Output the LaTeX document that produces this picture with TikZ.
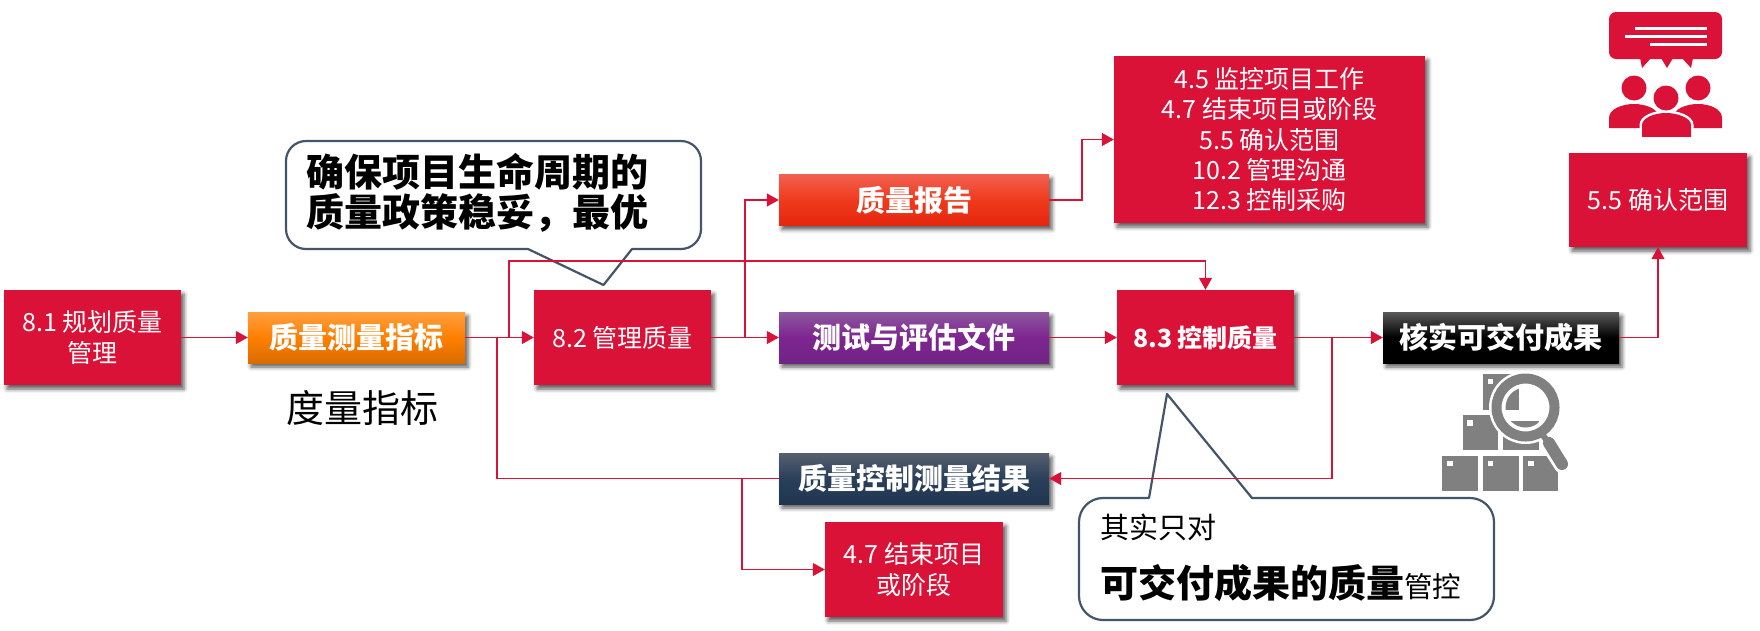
\documentclass[tikz,border=0pt]{standalone}
\usepackage{fontspec}
\setmainfont{Noto Sans CJK SC}
\usetikzlibrary{arrows.meta,shadows.blur}
\definecolor{boxred}{HTML}{DA1238}
\definecolor{noteblue}{HTML}{44546A}
\definecolor{crategray}{HTML}{808080}
\begin{document}
\begin{tikzpicture}[
		x=1pt,
		y=-1pt,
		boxshadow/.style={blur shadow={shadow xshift=3pt,shadow yshift=-4pt,shadow blur radius=4pt,shadow opacity=65}},
		redbox/.style={boxshadow,fill=boxred,text=white,inner sep=0pt,align=center,font=\fontsize{25}{30.3}\selectfont},
		bandbox/.style={boxshadow,text=white,inner sep=0pt,minimum width=270pt,minimum height=51pt,font=\fontsize{29}{34}\selectfont\bfseries},
		wire/.style={draw=boxred,line width=1.1pt},
		arrowwire/.style={wire,-{Triangle[length=12pt,width=13pt]}},
		callout/.style={draw=noteblue,fill=white,line width=2.2pt,line join=round},
		icon/.style={fill=boxred,draw=none}
		]
		\useasboundingbox (0,0) rectangle (1760,630);

		\draw[callout] (528,249) [sharp corners] -- (603.5,285) -- (632,249) [rounded corners=20pt] -- (701,249) -- (701,141) -- (286,141) -- (286,249) [sharp corners] -- (528,249) -- cycle;
		\draw[callout] (1149,498) [sharp corners] -- (1167,394) -- (1252,498) [rounded corners=24pt] -- (1494,498) -- (1494,620) -- (1079,620) -- (1079,498) [sharp corners] -- (1149,498) -- cycle;
		\node (notemanage) [anchor=west,inner sep=0pt,align=left,font=\fontsize{38}{40}\selectfont\bfseries] at (306,193) {确保项目生命周期的\\质量政策稳妥，最优};
		\node (notefirst) [anchor=west,inner sep=0pt,font=\fontsize{29}{34}\selectfont] at (1100,527) {其实只对};
		\node (notesecond) [anchor=west,inner sep=0pt,font=\fontsize{38}{40}\selectfont\bfseries] at (1100,583) {可交付成果的质量{\fontsize{28.5}{34}\selectfont\mdseries 管控}};

		\node (plan) [redbox,minimum width=177pt,minimum height=95pt] at (92.5,337.5) {8.1 规划质量\\管理};
		\node (manage) [redbox,minimum width=177pt,minimum height=95pt] at (622.5,337.5) {8.2 管理质量};
		\node (control) [redbox,minimum width=177pt,minimum height=95pt,font=\fontsize{25}{30.3}\selectfont\bfseries] at (1205.5,337.5) {8.3 控制质量};
		\node (outputs) [redbox,minimum width=311pt,minimum height=167pt] at (1269.5,139.5) {4.5 监控项目工作\\4.7 结束项目或阶段\\5.5 确认范围\\10.2 管理沟通\\12.3 控制采购};
		\node (scope) [redbox,minimum width=178pt,minimum height=94pt] at (1658,200) {5.5 确认范围};
		\node (close) [redbox,minimum width=178pt,minimum height=95pt] at (914,569.5) {4.7 结束项目\\或阶段};

		\node (metrics) [bandbox,minimum width=217pt,top color=orange!75!white,bottom color=orange!85!black,middle color=orange] at (356.5,337.5) {质量测量指标};
		\node (report) [bandbox,top color={rgb,255:red,242;green,96;blue,80},bottom color={rgb,255:red,228;green,38;blue,15},middle color={rgb,255:red,240;green,58;blue,28}] at (914,200) {质量报告};
		\node (testdoc) [bandbox,top color={rgb,255:red,140;green,88;blue,158},bottom color={rgb,255:red,112;green,36;blue,132},middle color={rgb,255:red,126;green,37;blue,144}] at (914,337.5) {测试与评估文件};
		\node (result) [bandbox,top color={rgb,255:red,86;green,96;blue,111},bottom color={rgb,255:red,32;green,53;blue,80},middle color={rgb,255:red,42;green,63;blue,90}] at (914,478.5) {质量控制测量结果};
		\node (verify) [bandbox,minimum width=236pt,top color=black!65,bottom color=black,middle color=black] at (1501,337.5) {核实可交付成果};

		\node (metricword) [inner sep=0pt,font=\fontsize{38}{40}\selectfont] at (362,408) {度量指标};

		\coordinate (railstart) at (509,337.5);
		\coordinate (railend) at (1205.5,261);
		\coordinate (backturn) at (497,337.5);
		\coordinate (closeturn) at (742,478.5);
		\coordinate (reportturn) at (745,337.5);
		\coordinate (outputsturn) at (1082,170);
		\coordinate (feedturn) at (1332,337.5);

		\draw[arrowwire] (plan) -- (metrics);
		\draw[arrowwire] (metrics) -- (manage);
		\draw[arrowwire] (railstart) |- (railend) -- (control.north);
		\draw[wire] (result.west) -| (backturn);
		\draw[arrowwire] (closeturn) |- (close.west);
		\draw[arrowwire] (manage) -- (testdoc);
		\draw[arrowwire] (reportturn) |- (report.west);
		\draw[arrowwire] (report.east) -| (outputsturn) |- (outputs.west);
		\draw[arrowwire] (testdoc) -- (control);
		\draw[arrowwire] (control) -- (verify);
		\draw[arrowwire] (feedturn) |- (result.east);
		\draw[arrowwire] (verify.east) -| (scope.south);

		\fill[icon,rounded corners=7pt] (1609,12) rectangle (1722,59);
		\fill[icon] (1640,58) -- (1642,68) -- (1651,58) -- cycle;
		\fill[icon] (1661,58) -- (1667,68) -- (1673,58) -- cycle;
		\fill[icon] (1682,58) -- (1691,68) -- (1693,58) -- cycle;
		\fill[white] (1635,27) rectangle (1707,30);
		\fill[white] (1625,34.5) rectangle (1707,37.5);
		\fill[white] (1650,42.5) rectangle (1707,45.5);
		\fill[icon] (1634,88) circle (12.5);
		\fill[icon] (1698,88) circle (12.5);
		\fill[icon] (1609,128) -- (1609,118) .. controls (1609,109) and (1622,104) .. (1634,104) .. controls (1646,104) and (1659,109) .. (1659,118) -- (1659,128) -- cycle;
		\fill[icon] (1673,128) -- (1673,118) .. controls (1673,109) and (1686,104) .. (1698,104) .. controls (1710,104) and (1722,109) .. (1722,118) -- (1722,128) -- cycle;
		\draw[draw=white,line width=5pt,fill=boxred] (1642,137) -- (1642,125) .. controls (1642,118) and (1654,113) .. (1666,113) .. controls (1678,113) and (1691,118) .. (1691,125) -- (1691,137) -- cycle;
		\fill[icon] (1642,137) -- (1642,125) .. controls (1642,118) and (1654,113) .. (1666,113) .. controls (1678,113) and (1691,118) .. (1691,125) -- (1691,137) -- cycle;
		\fill[white] (1630,137) rectangle (1700,142);
		\fill[icon] (1666,98) circle (12.5);

		\fill[crategray] (1442,456) rectangle (1478,491);
		\fill[crategray] (1483,456) rectangle (1518.5,491);
		\fill[crategray] (1523,456) rectangle (1558,491);
		\fill[crategray] (1463,415) rectangle (1498,450);
		\fill[crategray] (1503,415) rectangle (1539,450);
		\fill[crategray] (1483,374) rectangle (1519,410);
		\fill[white] (1447,461) rectangle (1453,466);
		\fill[white] (1488,461) rectangle (1493,466);
		\fill[white] (1528,461) rectangle (1534,466);
		\fill[white] (1467,420) rectangle (1473,426);
		\fill[white] (1488,379) rectangle (1493,384);
		\draw[white,line width=18pt,line cap=round] (1549,443) -- (1563,465);
		\fill[white] (1525.5,407.5) circle (36.5);
		\begin{scope}
			\clip (1525.5,407.5) circle (20);
			\fill[crategray] (1503,421) rectangle (1539,430);
			\fill[crategray] (1483,374) rectangle (1519,410);
		\end{scope}
		\draw[crategray,line width=10pt] (1525.5,407.5) circle (29);
		\draw[crategray,line width=6pt] (1541,433) -- (1549,443);
		\draw[crategray,line width=12pt,line cap=round] (1549,443) -- (1562,464);
	\end{tikzpicture}
\end{document}
